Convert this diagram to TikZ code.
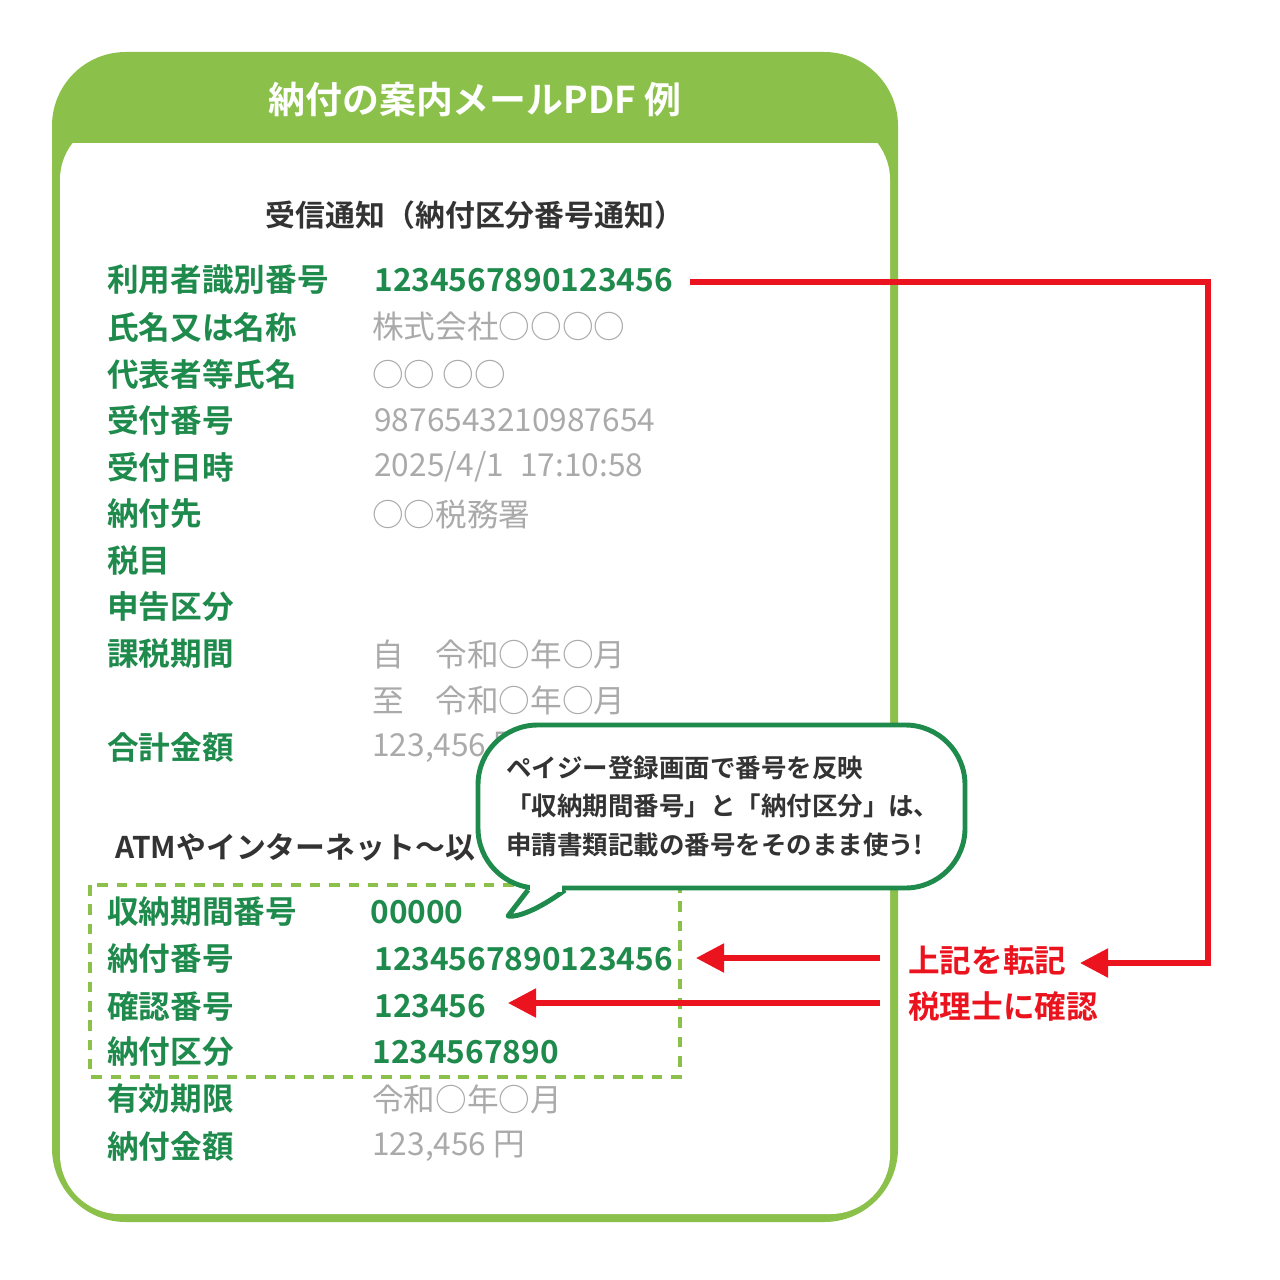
\documentclass[tikz,border=0pt]{standalone}
\usepackage{fontspec}
\setmainfont{Noto Sans CJK JP}[BoldFont={* Bold}]
\usetikzlibrary{arrows.meta}
\definecolor{frameg}{RGB}{139,193,74}
\definecolor{textg}{RGB}{30,138,76}
\definecolor{grayt}{RGB}{170,170,170}
\definecolor{darkt}{RGB}{51,51,51}
\definecolor{redl}{RGB}{235,20,30}
\tikzset{
 lab/.style={anchor=west,text=textg,font=\fontsize{18}{20}\selectfont\bfseries,inner sep=0},
 val/.style={anchor=west,text=grayt,font=\fontsize{18}{20}\selectfont,inner sep=0},
 valg/.style={anchor=west,text=textg,font=\fontsize{18}{20}\selectfont\bfseries,inner sep=0},
 redline/.style={draw=redl,line width=3pt},
 redarr/.style={redline,-{Triangle[length=16pt,width=16pt]}},
}
\begin{document}
\begin{tikzpicture}[x=0.02cm,y=-0.02cm]
\useasboundingbox (0,0) rectangle (1280,1280);
% frame
\fill[frameg,rounded corners=42] (52,52) rectangle (898,1222);
\fill[white,rounded corners=34] (60,120) rectangle (890,1214);
\fill[frameg] (60,100) rectangle (890,143);
\node[text=white,font=\fontsize{21}{24}\selectfont\bfseries] (hdr) at (475,100) {納付の案内メールPDF 例};
\node[text=darkt,font=\fontsize{17}{20}\selectfont\bfseries] (ttl) at (475,215) {受信通知（納付区分番号通知）};
% rows
\node[lab] (l1) at (107,280) {利用者識別番号};
\node[valg] (v1) at (374,280) {1234567890123456};
\node[lab] at (107,327) {氏名又は名称}; \node[val] at (372,327) {株式会社○○○○};
\node[lab] at (107,374) {代表者等氏名}; \node[val] at (372,374) {○○ ○○};
\node[lab] at (107,420) {受付番号}; \node[val] at (374,420) {9876543210987654};
\node[lab] at (107,467) {受付日時}; \node[val] at (374,467) {2025/4/1\enspace 17:10:58};
\node[lab] at (107,514) {納付先}; \node[val] at (372,514) {○○税務署};
\node[lab] at (107,560) {税目};
\node[lab] at (107,607) {申告区分};
\node[lab] at (107,654) {課税期間}; \node[val] at (372,654) {自\quad 令和○年○月};
\node[val] at (372,700) {至\quad 令和○年○月};
\node[lab] at (107,747) {合計金額}; \node[val] at (372,747) {123,456 円};
\node[anchor=west,inner sep=0,text=darkt,font=\fontsize{17}{20}\selectfont\bfseries] at (115,847) {ATMやインターネット～以下};
% dashed box
\draw[frameg,line width=2.2pt,dash pattern=on 6pt off 5pt] (90,885) rectangle (680,1077);
\node[lab] at (107,912) {収納期間番号}; \node[valg] at (370,912) {00000};
\node[lab] at (107,959) {納付番号}; \node[valg] (v2) at (374,959) {1234567890123456};
\node[lab] at (107,1006) {確認番号}; \node[valg] (v3) at (374,1006) {123456};
\node[lab] at (107,1052) {納付区分}; \node[valg] at (372,1052) {1234567890};
\node[lab] at (107,1099) {有効期限}; \node[val] at (372,1099) {令和○年○月};
\node[lab] at (107,1146) {納付金額}; \node[val] at (372,1146) {123,456 円};
% callout
\draw[textg,line width=2.8pt,fill=white,rounded corners=34] (478,725) rectangle (965,888);
\draw[textg,line width=2.8pt,fill=white,line join=round] (528,890) -- (508,916) .. controls (520,918) and (545,905) .. (565,890);
\fill[white] (530,884) rectangle (562,892);
\node[anchor=north west,align=left,text=darkt,inner sep=0,font=\fontsize{14.5}{22}\selectfont\bfseries] (co) at (506,755) {ペイジー登録画面で番号を反映\\「収納期間番号」と「納付区分」は、\\申請書類記載の番号をそのまま使う!};
% red connectors
\node[anchor=west,inner sep=0,text=redl,font=\fontsize{18}{20}\selectfont\bfseries] (r1) at (908,960) {上記を転記};
\node[anchor=west,inner sep=0,text=redl,font=\fontsize{18}{20}\selectfont\bfseries] (r2) at (908,1006) {税理士に確認};
\coordinate (a1) at (880,958); \coordinate (a2) at (880,1003);
\coordinate (s1) at (690,282); \coordinate (c1) at (1208,282); \coordinate (c2) at (1208,963);
\draw[redarr] (s1) -- (c1) -- (c2) -- (1080,963);
\draw[redarr] (a1) -- (696,958);
\draw[redarr] (a2) -- (508,1003);
\end{tikzpicture}
\end{document}
